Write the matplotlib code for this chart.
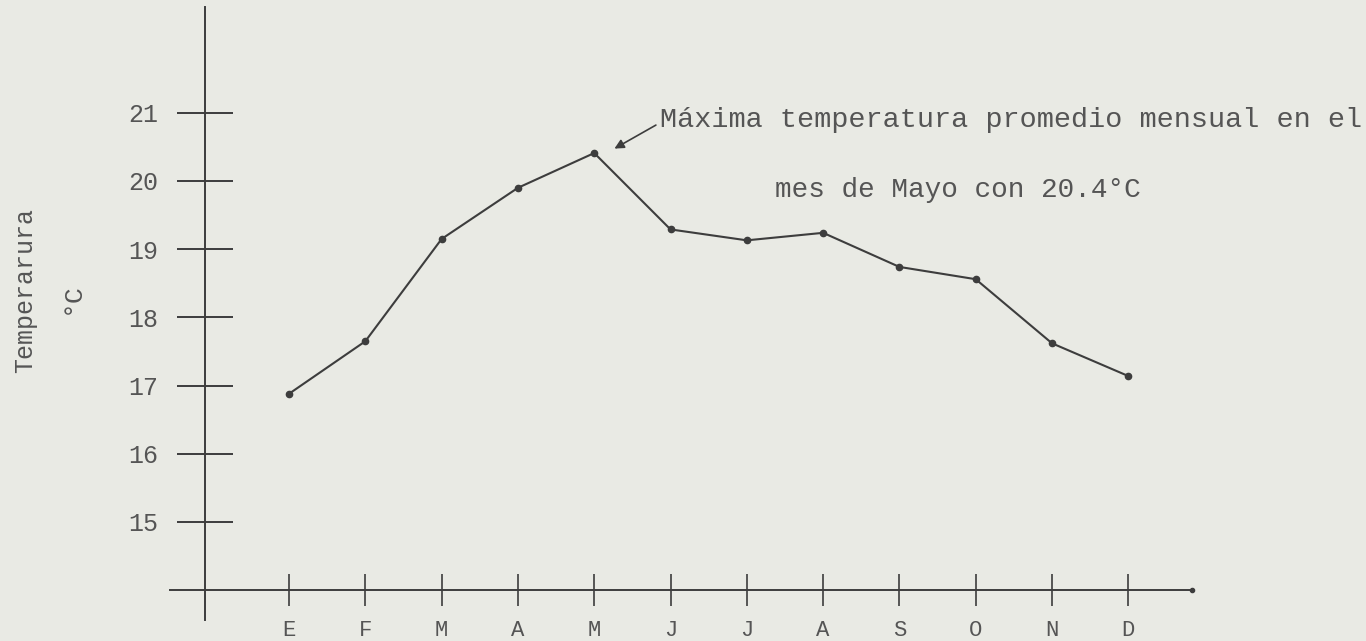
import matplotlib
matplotlib.use("Agg")
import matplotlib.pyplot as plt

months = ["E", "F", "M", "A", "M", "J", "J", "A", "S", "O", "N", "D"]
month_pos = list(range(1, 13))
temps = [16.88, 17.65, 19.15, 19.90, 20.41, 19.29, 19.13, 19.24, 18.74, 18.56, 17.62, 17.14]
y_ticks = [15, 16, 17, 18, 19, 20, 21]
y_label = "Temperarura"
unit_label = "°C"
note_line1 = "Máxima temperatura promedio mensual en el"
note_line2 = "mes de Mayo con 20.4°C"

ink = "#3d3d3d"
txt = "#555555"
paper = "#e9eae4"
font = ["Liberation Mono", "DejaVu Sans Mono"]

fig = plt.figure(figsize=(13.66, 6.41), dpi=100)
fig.patch.set_facecolor(paper)
ax = fig.add_axes([0, 0, 1, 1])
ax.set_facecolor(paper)
ax.set_xlim(-2.788, 15.115)
ax.set_ylim(13.255, 22.654)

for s in ["top", "right"]:
    ax.spines[s].set_visible(False)
ax.spines["left"].set_position(("data", -0.1))
ax.spines["left"].set_bounds(13.56, 22.55)
ax.spines["bottom"].set_position(("data", 14.0))
ax.spines["bottom"].set_bounds(-0.56, 12.83)
for s in ["left", "bottom"]:
    ax.spines[s].set_color(ink)
    ax.spines[s].set_linewidth(1.4)

ax.set_yticks(y_ticks)
ax.set_yticklabels([str(v) for v in y_ticks], fontfamily=font, fontsize=18, color=txt)
ax.tick_params(axis="y", direction="inout", length=40, width=1.4, color=ink, pad=13.5)
ax.set_xticks(month_pos)
ax.set_xticklabels(months, fontfamily=font, fontsize=16, color=txt)
ax.tick_params(axis="x", direction="inout", length=23, width=1.2, color=ink, pad=10)

ax.plot(month_pos, temps, color=ink, linewidth=1.5, marker="o", markersize=4.5,
        markerfacecolor=ink, markeredgecolor=ink)
ax.plot([12.83], [14.0], marker="o", markersize=3, color=ink)

ax.text(-2.46, 18.40, y_label, rotation=90, ha="center", va="center",
        fontfamily=font, fontsize=18, color=txt)
ax.text(-1.844, 18.28, unit_label, rotation=90, ha="center", va="center",
        fontfamily=font, fontsize=19, color=txt)

ax.annotate("", xy=(5.233, 20.455), xytext=(5.84, 20.84),
            arrowprops=dict(arrowstyle="-|>", color=ink, lw=1.2, mutation_scale=14))
ax.text(5.86, 20.894, note_line1, ha="left", va="center", fontfamily=font,
        fontsize=20.5, color=txt)
ax.text(7.37, 19.87, note_line2, ha="left", va="center", fontfamily=font,
        fontsize=20, color=txt)

fig.savefig("out.png", dpi=100, facecolor=paper)
